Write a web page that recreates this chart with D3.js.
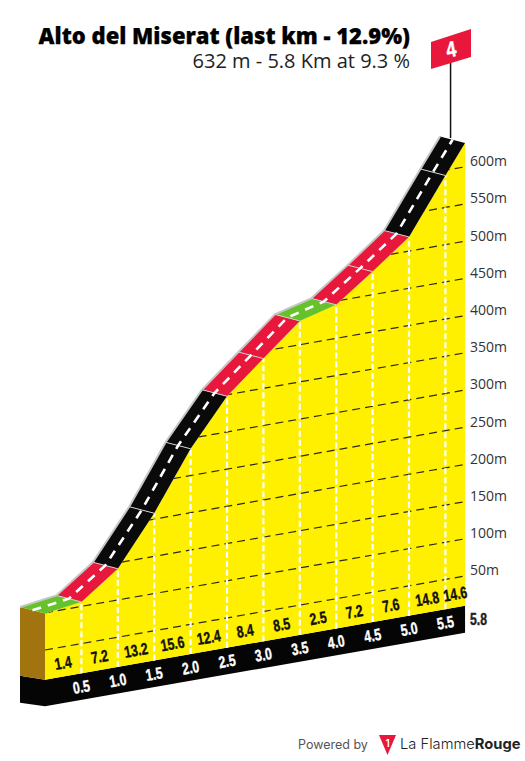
<!DOCTYPE html>
<html>
<head>
<meta charset="utf-8">
<title>Alto del Miserat</title>
<script src="https://cdn.jsdelivr.net/npm/d3@7/dist/d3.min.js"></script>
<style>
  html, body { margin: 0; padding: 0; background: #fff; }
  svg { display: block; }
  .cond { font-family: "Liberation Sans", sans-serif; font-weight: 700; stroke-width: 0.4; paint-order: stroke; }
  .open { font-family: "Open Sans", sans-serif; }
</style>
</head>
<body>
<svg id="chart" width="525" height="761"></svg>
<script>
// Climb profile: distance stops (km) and elevation at each stop (m)
const kmStops = [0, 0.5, 1, 1.5, 2, 2.5, 3, 3.5, 4, 4.5, 5, 5.5, 5.77];
const elevations = [99, 106, 142, 208, 286, 348, 390, 432, 445, 481, 519, 593, 632];
const gradients = [1.4, 7.2, 13.2, 15.6, 12.4, 8.4, 8.5, 2.5, 7.2, 7.6, 14.8, 14.6];
const kmLabels = ["0.5", "1.0", "1.5", "2.0", "2.5", "3.0", "3.5", "4.0", "4.5", "5.0", "5.5"];
const elevationTicks = [50, 100, 150, 200, 250, 300, 350, 400, 450, 500, 550, 600];
const endLabel = "5.8";
const baseElevation = 10;
const titleText = "Alto del Miserat (last km - 12.9%)";
const subtitleText = "632 m - 5.8 Km at 9.3 %";
const climbCategory = "4";

const svg = d3.select("#chart");

// Oblique projection: distance runs right and rises a little on screen
const x = d3.scaleLinear().domain([0, 5.5]).range([45, 445.4]);
const y = d3.scaleLinear().domain([50, 600]).range([650, 240.8]);
const skew = d3.scaleLinear().domain([0, 5.77]).range([0, -74]);
const px = km => x(km);
const py = (km, e) => y(e) + skew(km);

const gradientColor = d3.scaleThreshold()
  .domain([3, 9])
  .range(["#66c22a", "#e8173c", "#0a0a0a"]);

const ROAD_DX = -25, ROAD_DY = -6.5, BASE_H = 26.5, SIDE_W = 25;
const CONDENSE = 0.74;

const profile = kmStops.map((km, i) => ({
  km,
  e: elevations[i],
  lx: px(km),
  ly: py(km, elevations[i])
}));
const baseY = km => py(km, baseElevation);
const lastKm = kmStops[kmStops.length - 1];
const poly = pts => pts.map(p => p.join(",")).join(" ");
const line = d3.line();

// Yellow face under the road
const facePts = [
  ...profile.map(p => [p.lx, p.ly]),
  [px(lastKm), baseY(lastKm)],
  [px(0), baseY(0)]
];
svg.append("clipPath").attr("id", "faceClip")
  .append("polygon").attr("points", poly(facePts));

// Black plinth carrying the distance labels
svg.append("polygon")
  .attr("fill", "#050505")
  .attr("points", poly([
    [px(0) - SIDE_W, baseY(0) - 4],
    [px(0), baseY(0)],
    [px(lastKm), baseY(lastKm)],
    [px(lastKm), baseY(lastKm) + BASE_H + 0.5],
    [px(0), baseY(0) + BASE_H],
    [px(0) - SIDE_W, baseY(0) - 4 + BASE_H + 0.5]
  ]));

svg.append("polygon").attr("fill", "#fff000").attr("points", poly(facePts));

// Brown end of the block
svg.append("polygon")
  .attr("fill", "#a1740f")
  .attr("points", poly([
    [profile[0].lx + ROAD_DX, profile[0].ly + ROAD_DY],
    [profile[0].lx, profile[0].ly],
    [px(0), baseY(0)],
    [px(0) + ROAD_DX, baseY(0) - 4]
  ]));

// Elevation guides
const guides = svg.append("g").attr("clip-path", "url(#faceClip)");
guides.selectAll("path").data(elevationTicks).join("path")
  .attr("d", e => line([[px(0), py(0, e)], [px(5.74), py(5.74, e)]]))
  .attr("fill", "none")
  .attr("stroke", "#2c2a10")
  .attr("stroke-width", 1.2)
  .attr("stroke-dasharray", "8 5");

// Distance guides
svg.append("g").selectAll("path").data(profile.slice(1, -1)).join("path")
  .attr("d", p => line([[p.lx, baseY(p.km)], [p.lx, p.ly]]))
  .attr("fill", "none")
  .attr("stroke", "#ffffff")
  .attr("stroke-width", 2.2)
  .attr("stroke-dasharray", "6 3");

// Road segments coloured by gradient
const road = svg.append("g");
road.selectAll("polygon").data(gradients).join("polygon")
  .attr("fill", d => gradientColor(d))
  .attr("points", (d, i) => {
    const a = profile[i], b = profile[i + 1];
    return poly([
      [a.lx, a.ly], [b.lx, b.ly],
      [b.lx + ROAD_DX, b.ly + ROAD_DY], [a.lx + ROAD_DX, a.ly + ROAD_DY]
    ]);
  });

// Cross lines at every stop
road.append("g").selectAll("path").data(profile.slice(1, -1)).join("path")
  .attr("d", p => line([[p.lx, p.ly], [p.lx + ROAD_DX, p.ly + ROAD_DY]]))
  .attr("stroke", "#cfcfcf")
  .attr("stroke-width", 1);

// Shoulder along the far edge of the road
road.append("path")
  .attr("d", line(profile.map(p => [p.lx + ROAD_DX, p.ly + ROAD_DY])))
  .attr("fill", "none")
  .attr("stroke", "#c6c6c6")
  .attr("stroke-width", 2);

// Centre line
road.append("path")
  .attr("d", line(profile.map(p => [p.lx + ROAD_DX / 2, p.ly + ROAD_DY / 2])))
  .attr("fill", "none")
  .attr("stroke", "#fff")
  .attr("stroke-width", 2.6)
  .attr("stroke-dasharray", "9 7");

// Gradient labels on the face
const slope = Math.atan2(skew(1) - skew(0), x(1) - x(0)) * 180 / Math.PI;
svg.append("g").selectAll("text").data(gradients).join("text")
  .attr("class", "cond")
  .attr("font-size", 16.5)
  .attr("fill", "#111")
  .attr("stroke", "#111")
  .attr("text-anchor", "middle")
  .attr("dominant-baseline", "central")
  .attr("transform", (d, i) => {
    const km = (kmStops[i] + kmStops[i + 1]) / 2;
    return `translate(${px(km)},${baseY(km) - 13.5}) rotate(${slope}) scale(${CONDENSE},1)`;
  })
  .text(d => d3.format(".1f")(d));

// Distance labels on the plinth
svg.append("g").selectAll("text").data(kmLabels).join("text")
  .attr("class", "cond")
  .attr("font-size", 16.5)
  .attr("fill", "#fff")
  .attr("stroke", "#fff")
  .attr("text-anchor", "middle")
  .attr("dominant-baseline", "central")
  .attr("transform", d => `translate(${px(+d)},${baseY(+d) + 13.5}) rotate(${slope}) scale(${CONDENSE},1)`)
  .text(d => d);

svg.append("text")
  .attr("class", "cond")
  .attr("font-size", 16.5)
  .attr("fill", "#222")
  .attr("stroke", "#222")
  .attr("dominant-baseline", "central")
  .attr("transform", `translate(470,619) scale(${CONDENSE},1)`)
  .text(endLabel);

// Elevation labels to the right of the block
const axis = d3.axisRight(y)
  .tickValues(elevationTicks)
  .tickSize(0)
  .tickPadding(0)
  .tickFormat(d => d + "m");
svg.append("g")
  .attr("transform", `translate(470,${skew(lastKm) - 5.5})`)
  .call(axis)
  .call(g => g.select(".domain").remove())
  .call(g => g.selectAll("text")
    .attr("class", "open")
    .attr("font-size", 14)
    .attr("fill", "#333"));

// Category flag at the summit
const summit = profile[profile.length - 1];
const poleX = summit.lx - 14.5;
svg.append("path")
  .attr("d", line([[poleX, summit.ly - 5], [poleX, 60]]))
  .attr("stroke", "#111")
  .attr("stroke-width", 1.5);
svg.append("polygon")
  .attr("fill", "#e8173c")
  .attr("points", poly([[431, 42], [471, 29], [471, 57], [431, 69]]));
svg.append("text")
  .attr("class", "cond")
  .attr("font-size", 21)
  .attr("fill", "#fff")
  .attr("stroke", "#fff")
  .attr("text-anchor", "middle")
  .attr("dominant-baseline", "central")
  .attr("transform", `translate(451,49) rotate(${slope}) scale(0.85,1.05)`)
  .text(climbCategory);

// Heading
svg.append("text")
  .attr("class", "open")
  .attr("x", 410).attr("y", 44)
  .attr("text-anchor", "end")
  .attr("font-size", 22)
  .attr("font-weight", 800)
  .attr("fill", "#000")
  .attr("stroke", "#000")
  .attr("stroke-width", 0.25)
  .text(titleText);
svg.append("text")
  .attr("class", "open")
  .attr("x", 410).attr("y", 68)
  .attr("text-anchor", "end")
  .attr("font-size", 20)
  .attr("fill", "#222")
  .text(subtitleText);

// Footer credit
const sans = "Inter, 'Noto Sans', sans-serif";
svg.append("text")
  .attr("x", 298).attr("y", 749)
  .attr("font-family", sans)
  .attr("font-size", 12.5)
  .attr("fill", "#555")
  .text("Powered by");
svg.append("polygon")
  .attr("fill", "#e8173c")
  .attr("points", poly([[379, 735], [396, 735], [387.5, 755]]));
svg.append("text")
  .attr("x", 387.5).attr("y", 747)
  .attr("text-anchor", "middle")
  .attr("font-family", sans)
  .attr("font-weight", 600)
  .attr("font-size", 10)
  .attr("fill", "#fff")
  .text("1");
const brand = svg.append("text")
  .attr("x", 400).attr("y", 749)
  .attr("font-family", sans)
  .attr("font-size", 14.7)
  .attr("fill", "#222");
brand.append("tspan").attr("font-weight", 300).text("La Flamme");
brand.append("tspan").attr("font-weight", 700).text("Rouge");
</script>
</body>
</html>
